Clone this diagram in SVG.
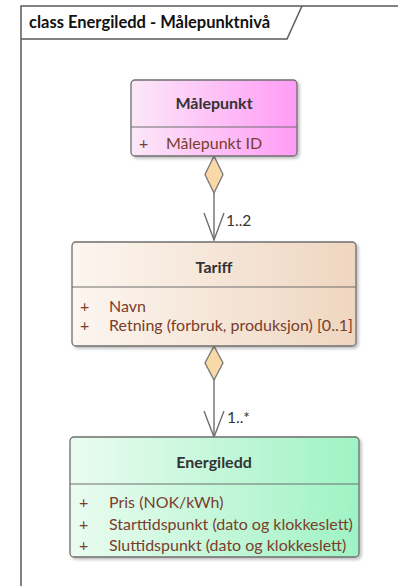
<svg xmlns="http://www.w3.org/2000/svg" width="398" height="586" viewBox="0 0 398 586">
<style>
.frame{fill:none;stroke:#5a5a5a;stroke-width:1.5}
.box{stroke:#6f6f6f;stroke-width:1.3}
.div{stroke:#6f6f6f;stroke-width:1.2}
.ttl{font-family:Lato,"Open Sans",sans-serif;font-weight:bold;font-size:16px;fill:#333;text-anchor:middle}
.att{font-family:Lato,"Open Sans",sans-serif;font-size:16px;fill:#7a3d2c}
.hdr{font-family:Lato,"Open Sans",sans-serif;font-weight:bold;font-size:16.5px;fill:#111}
.lbl{font-family:Lato,"Open Sans",sans-serif;font-size:15.5px;fill:#333}
.ln{stroke:#6f6f6f;stroke-width:1.4;fill:none}
.dia{fill:#f8d9a7;stroke:#777;stroke-width:1.3}
</style>
<defs>
<linearGradient id="gP" x1="0" y1="0" x2="1" y2="0"><stop offset="0" stop-color="#fbe8f8"/><stop offset="1" stop-color="#ff9cf6"/></linearGradient>
<linearGradient id="gT" x1="0" y1="0" x2="1" y2="0"><stop offset="0" stop-color="#fcf6f0"/><stop offset="1" stop-color="#efd6c0"/></linearGradient>
<linearGradient id="gE" x1="0" y1="0" x2="1" y2="0"><stop offset="0" stop-color="#eafcf0"/><stop offset="1" stop-color="#9ff3c4"/></linearGradient>
<filter id="sh" x="-10%" y="-10%" width="120%" height="130%"><feDropShadow dx="2" dy="2" stdDeviation="1.5" flood-color="#000" flood-opacity="0.25"/></filter>
</defs>
<rect width="398" height="586" fill="#fff"/>
<g id="frame">
<path class="frame" d="M21,600 V6 H400"/>
<path class="frame" d="M21,39 H287 L302,6"/>
<text class="hdr" x="29" y="28">class Energiledd - Målepunktnivå</text>
</g>
<g id="connectors">
<line class="ln" x1="214" y1="193" x2="214" y2="240"/>
<polygon class="dia" points="214,156 223,174.5 214,193 205,174.5"/>
<polyline class="ln" points="204,213 214,240 224,213"/>
<text class="lbl" x="226" y="226">1..2</text>
<line class="ln" x1="214" y1="380" x2="214" y2="437"/>
<polygon class="dia" points="214,346 223,363 214,380 205,363"/>
<polyline class="ln" points="204,411 214,437 224,411"/>
<text class="lbl" x="227" y="423">1..*</text>
</g>
<g id="malepunkt">
<rect class="box" x="131" y="80" width="166" height="76" rx="4" fill="url(#gP)" filter="url(#sh)"/>
<line class="div" x1="131" y1="127" x2="297" y2="127"/>
<text class="ttl" x="214" y="109">Målepunkt</text>
<text class="att" x="139" y="149">+</text>
<text class="att" x="166" y="149">Målepunkt ID</text>
</g>
<g id="tariff">
<rect class="box" x="72" y="242" width="284" height="104" rx="4" fill="url(#gT)" filter="url(#sh)"/>
<line class="div" x1="72" y1="287" x2="356" y2="287"/>
<text class="ttl" x="214" y="273">Tariff</text>
<text class="att" x="80" y="312">+</text>
<text class="att" x="109" y="312">Navn</text>
<text class="att" x="80" y="331">+</text>
<text class="att" x="109" y="331">Retning (forbruk, produksjon) [0..1]</text>
</g>
<g id="energiledd">
<rect class="box" x="70" y="437" width="289" height="120" rx="4" fill="url(#gE)" filter="url(#sh)"/>
<line class="div" x1="70" y1="484" x2="359" y2="484"/>
<text class="ttl" x="214" y="468">Energiledd</text>
<text class="att" x="79" y="508">+</text>
<text class="att" x="109" y="508">Pris (NOK/kWh)</text>
<text class="att" x="79" y="530">+</text>
<text class="att" x="109" y="530">Starttidspunkt (dato og klokkeslett)</text>
<text class="att" x="79" y="551">+</text>
<text class="att" x="109" y="551">Sluttidspunkt (dato og klokkeslett)</text>
</g>
</svg>
